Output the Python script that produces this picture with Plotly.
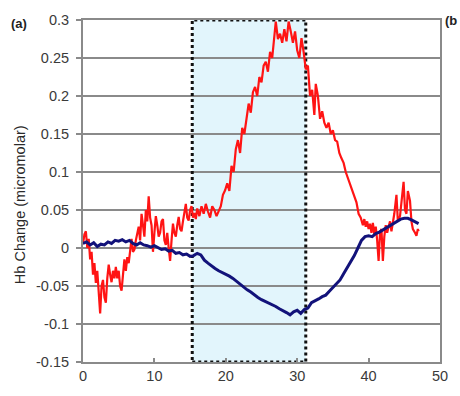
import plotly.graph_objects as go

red_x = [0.0,0.2,0.4,0.6,0.8,1.0,1.2,1.4,1.6,1.8,2.0,2.2,2.4,2.6,2.8,3.0,3.2,3.4,3.6,3.8,
         4.0,4.2,4.4,4.6,4.8,5.0,5.2,5.4,5.6,5.8,6.0,6.2,6.4,6.6,6.8,7.0,7.2,7.4,7.6,7.8,
         8.0,8.2,8.4,8.6,8.8,9.0,9.2,9.4,9.6,9.8,10.0,10.2,10.4,10.6,10.8,11.0,11.2,11.4,11.6,11.8,
         12.0,12.2,12.4,12.6,12.8,13.0,13.2,13.4,13.6,13.8,14.0,14.2,14.4,14.6,14.8,15.0,15.2,15.4,15.6,15.8,
         16.0,16.3,16.6,16.9,17.2,17.5,17.8,18.1,18.4,18.7,19.0,19.3,19.6,19.9,20.2,20.5,20.8,21.1,21.4,21.7,
         22.0,22.3,22.6,22.9,23.2,23.5,23.8,24.1,24.4,24.7,25.0,25.3,25.6,25.9,26.2,26.5,26.8,27.0,27.3,27.6,
         27.9,28.2,28.5,28.8,29.1,29.4,29.7,30.0,30.3,30.6,30.9,31.2,31.5,31.8,32.1,32.4,32.6,32.9,33.2,33.5,
         33.8,34.1,34.4,34.7,35.0,35.3,35.6,35.9,36.2,36.5,36.8,37.1,37.4,37.7,38.0,38.3,38.6,38.9,39.2,39.4,
         39.6,39.8,40.0,40.2,40.4,40.6,40.8,41.0,41.2,41.4,41.6,41.8,42.0,42.2,42.4,42.6,42.8,43.0,43.2,43.4,
         43.6,43.9,44.1,44.4,44.6,44.9,45.1,45.3,45.5,45.8,46.0,46.2,46.5,46.7,46.9,47.0]
red_y = [0.005,0.018,0.022,0.0,0.012,-0.015,-0.005,-0.035,-0.02,-0.046,-0.03,-0.06,-0.086,-0.05,-0.042,-0.065,-0.072,-0.04,-0.022,-0.035,
         -0.045,-0.03,-0.04,-0.025,-0.04,-0.03,-0.05,-0.056,-0.03,-0.015,-0.03,-0.012,-0.02,0.0,0.012,-0.005,-0.002,0.01,0.02,0.028,
         0.01,0.045,0.03,0.015,0.05,0.035,0.068,0.04,0.03,-0.005,0.02,0.042,0.03,0.015,0.02,0.035,0.038,0.01,0.004,0.02,
         0.0,-0.017,0.01,0.032,0.02,0.015,0.03,0.041,0.025,0.022,0.035,0.045,0.058,0.04,0.036,0.05,0.055,0.04,0.046,0.038,
         0.052,0.042,0.055,0.045,0.058,0.048,0.04,0.055,0.05,0.042,0.048,0.055,0.07,0.076,0.085,0.075,0.108,0.1,0.13,0.142,
         0.125,0.158,0.15,0.172,0.19,0.178,0.205,0.212,0.2,0.225,0.218,0.24,0.245,0.232,0.258,0.25,0.28,0.298,0.275,0.282,
         0.27,0.288,0.272,0.298,0.285,0.27,0.285,0.26,0.25,0.276,0.258,0.235,0.24,0.2,0.208,0.175,0.216,0.2,0.17,0.18,
         0.165,0.158,0.165,0.15,0.155,0.142,0.14,0.125,0.118,0.112,0.1,0.092,0.083,0.075,0.068,0.06,0.045,0.04,0.03,0.038,
         0.028,0.035,0.025,0.032,0.02,0.033,0.018,0.028,0.01,-0.017,0.02,0.025,-0.017,0.015,0.03,0.02,0.028,0.035,0.022,0.033,
         0.045,0.07,0.035,0.042,0.06,0.087,0.05,0.045,0.075,0.062,0.035,0.025,0.02,0.016,0.025,0.022]

blue_x = [i * 0.5 for i in range(95)]
blue_y = [0.006,0.008,0.004,0.007,0.002,0.005,0.004,0.008,0.006,0.010,
          0.009,0.011,0.008,0.010,0.006,0.004,0.007,0.004,0.003,0.001,
          0.003,0.000,-0.002,-0.001,-0.004,-0.003,-0.007,-0.006,-0.009,-0.008,
          -0.011,-0.010,-0.007,-0.009,-0.016,-0.020,-0.024,-0.027,-0.030,-0.032,
          -0.034,-0.037,-0.040,-0.044,-0.047,-0.051,-0.055,-0.058,-0.062,-0.065,
          -0.068,-0.070,-0.073,-0.075,-0.077,-0.080,-0.082,-0.085,-0.088,-0.084,
          -0.082,-0.086,-0.081,-0.079,-0.072,-0.070,-0.067,-0.064,-0.062,-0.057,
          -0.052,-0.048,-0.042,-0.034,-0.026,-0.018,-0.010,0.000,0.010,0.015,
          0.016,0.015,0.019,0.021,0.024,0.027,0.030,0.033,0.035,0.038,
          0.039,0.039,0.037,0.035,0.032]

shade_x = [15.3, 31.2]
y_ticks = [-0.15, -0.1, -0.05, 0, 0.05, 0.1, 0.15, 0.2, 0.25, 0.3]
y_labels = ["-0.15", "-0.1", "-0.05", "0", "0.05", "0.1", "0.15", "0.2", "0.25", "0.3"]
x_ticks = [0, 10, 20, 30, 40, 50]

FAM = "Liberation Sans, Arial, sans-serif"

fig = go.Figure()
fig.add_trace(go.Scatter(x=red_x, y=red_y, mode="lines",
                         line=dict(color="#ff1414", width=2.2), showlegend=False))
fig.add_trace(go.Scatter(x=blue_x, y=blue_y, mode="lines",
                         line=dict(color="#12127a", width=3), showlegend=False))

fig.add_shape(type="rect", xref="x", yref="y", x0=shade_x[0], x1=shade_x[1], y0=-0.15, y1=0.3,
              fillcolor="#e2f5fc", line=dict(width=0), layer="below")
fig.add_shape(type="rect", xref="x", yref="y", x0=shade_x[0], x1=shade_x[1], y0=-0.15, y1=0.3,
              fillcolor="rgba(0,0,0,0)", line=dict(color="#111", width=3, dash="dot"), layer="between")

font = dict(family=FAM, size=14.5, color="#3a3a3a")
fig.update_layout(
    width=460, height=396,
    margin=dict(l=83, r=16, t=13, b=23),
    paper_bgcolor="white", plot_bgcolor="white",
    font=font,
    xaxis=dict(range=[0, 50], tickvals=x_ticks, showgrid=False, zeroline=False,
               showline=True, linecolor="#8a8a8a", linewidth=2, mirror=True,
               ticks="inside", ticklen=4, tickcolor="#8a8a8a", tickwidth=2,
               tickfont=dict(family=FAM, size=14.5, color="#3a3a3a")),
    yaxis=dict(range=[-0.15, 0.3], tickvals=y_ticks, ticktext=y_labels,
               showgrid=True, gridcolor="#8a8a8a", gridwidth=2, zeroline=False,
               showline=True, linecolor="#8a8a8a", linewidth=2, mirror=True,
               ticks="outside", ticklen=5, tickcolor="#8a8a8a", tickwidth=2,
               ticklabelstandoff=4,
               tickfont=dict(family=FAM, size=14.5, color="#3a3a3a")),
    annotations=[
        dict(text="Hb Change (micromolar)", xref="paper", yref="paper", x=-0.178, y=0.46,
             textangle=-90, showarrow=False, xanchor="center", yanchor="middle",
             font=dict(family=FAM, size=14.5, color="#2a2a2a")),
        dict(text="<b>(a)</b>", x=8, y=17, xref="paper", yref="paper", showarrow=False,
             xanchor="left", yanchor="middle",
             font=dict(family=FAM, size=13, color="#222")),
        dict(text="<b>(b</b>", x=1.0, y=1.0, xref="paper", yref="paper", showarrow=False,
             xanchor="left", yanchor="middle", xshift=3,
             font=dict(family=FAM, size=13, color="#222")),
    ],
)
# place "(a)" in pixel terms relative to the plot area
plot_w = 460 - 83 - 16
fig.layout.annotations[1].x = (8 - 83) / plot_w
fig.layout.annotations[1].y = 1.0 - (17 - 13) / (396 - 13 - 23)

fig.write_html("out.html")
